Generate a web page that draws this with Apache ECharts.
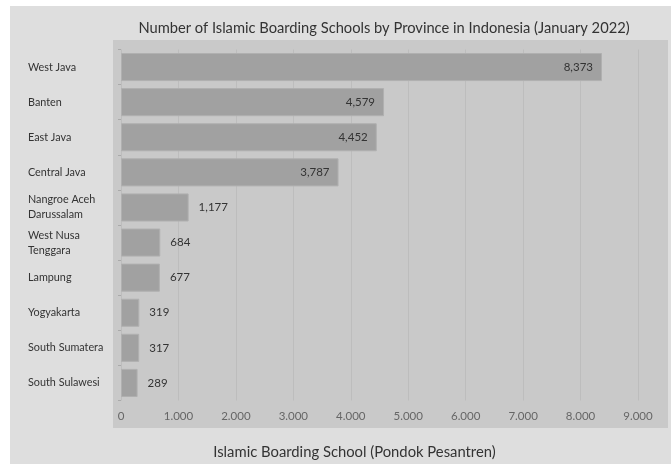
<!DOCTYPE html>
<html><head><meta charset="utf-8">
<script src="https://cdn.jsdelivr.net/npm/echarts@6/dist/echarts.min.js"></script>
<style>html,body{margin:0;padding:0;background:#fff}#c{width:671px;height:464px}</style>
</head><body><div id="c"></div>
<script>
const categories = ["West Java","Banten","East Java","Central Java","Nangroe Aceh\nDarussalam","West Nusa\nTenggara","Lampung","Yogyakarta","South Sumatera","South Sulawesi"];
const values = [8373,4579,4452,3787,1177,684,677,319,317,289];
const insideCount = 4;
const xTicks = [0,1000,2000,3000,4000,5000,6000,7000,8000,9000];

const chart = echarts.init(document.getElementById('c'));
const fmtComma = v => String(v).replace(/\B(?=(\d{3})+(?!\d))/g, ',');
const fmtDot = v => String(v).replace(/\B(?=(\d{3})+(?!\d))/g, '.');
const font = 'Lato, "Open Sans", sans-serif';
chart.setOption({
  animation:false,
  backgroundColor:'#fff',
  graphic:[
    {type:'rect', z:-10, shape:{x:10,y:6,width:661,height:458}, style:{fill:'#dedede'}},
    {type:'rect', z:-9, shape:{x:113,y:40,width:555,height:388}, style:{fill:'#c9c9c9'}}
  ],
  title:{text:'Number of Islamic Boarding Schools by Province in Indonesia (January 2022)', left:379, top:16, textAlign:'center',
    textStyle:{fontFamily:font,fontSize:14.7,fontWeight:'normal',color:'#333'}},
  grid:{left:121, right:33, top:49.5, height:351, containLabel:false, outerBoundsMode:'none'},
  xAxis:{type:'value', min:0, max:9000, interval:1000,
    name:'Islamic Boarding School (Pondok Pesantren)', nameLocation:'middle', nameGap:44,
    nameTextStyle:{fontFamily:font,fontSize:14.8,color:'#333', padding:[0,50,0,0]},
    axisLine:{show:false}, axisTick:{show:false},
    axisLabel:{fontFamily:font,fontSize:11.5,color:'#666',margin:10, formatter:v=>fmtDot(v)},
    splitLine:{show:true,lineStyle:{color:'#bdbdbd',width:1}}},
  yAxis:{type:'category', data:categories, inverse:true,
    axisLine:{show:false}, axisTick:{show:true,length:3,lineStyle:{color:'#aaa'}},
    axisLabel:{fontFamily:font,fontSize:10.8,color:'#333',align:'left',margin:93,lineHeight:15}},
  series:[{type:'bar', barCategoryGap:'20%',
    data: values.map((v,i)=>({value:v,
      label:{show:true, position: i<insideCount?'insideRight':'right', distance: i<insideCount?9:10}})),
    itemStyle:{color:'#a1a1a1', borderColor:'#b0b0b0', borderWidth:1},
    label:{fontFamily:font,fontSize:11.5,color:'#333', formatter:p=>fmtComma(p.value)}
  }]
});
</script></body></html>
